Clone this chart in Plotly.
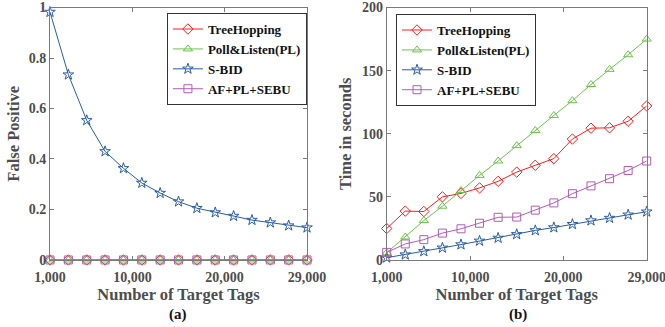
import plotly.graph_objects as go

tags = [1000, 3000, 5000, 7000, 9000, 11000, 13000, 15000, 17000, 19000, 21000, 23000, 25000, 27000, 29000]
x_ticks = [1000, 10000, 20000, 29000]
x_tick_labels = ["1,000", "10,000", "20,000", "29,000"]

series_names = ["TreeHopping", "Poll&Listen(PL)", "S-BID", "AF+PL+SEBU"]

# (a) False positive
fp_treehopping = [0] * 15
fp_poll_listen = [0] * 15
fp_sbid = [0.982, 0.734, 0.553, 0.43, 0.363, 0.305, 0.265, 0.231, 0.205, 0.188, 0.174, 0.158, 0.148, 0.136, 0.128]
fp_af_pl_sebu = [0] * 15

# (b) Time in seconds
t_treehopping = [24.9, 38.7, 38.4, 50.0, 52.7, 57.1, 62.3, 69.6, 75.0, 80.3, 95.8, 104.4, 104.7, 109.9, 122.0]
t_poll_listen = [5.7, 18.2, 31.2, 42.6, 55.0, 67.0, 78.4, 90.6, 102.6, 114.5, 126.2, 139.0, 151.0, 162.6, 175.0]
t_sbid = [1.8, 4.2, 6.8, 9.6, 12.2, 15.1, 17.4, 20.3, 23.4, 25.7, 28.3, 31.2, 33.2, 35.8, 38.2]
t_af_pl_sebu = [6.0, 12.7, 16.1, 21.3, 24.7, 29.1, 33.8, 34.0, 39.5, 45.2, 52.5, 58.7, 64.4, 70.9, 78.4]

colors = ["#ff1a1a", "#6cc24a", "#2a5caa", "#b25cb8"]
symbols = ["diamond-open", "triangle-up-open", "star-open", "square-open"]

FONT = '"Liberation Serif", "Times New Roman", Times, serif'
TXT = "#4d4d4d"
AX = "#7a7a7a"

fig = go.Figure()

left_data = [fp_treehopping, fp_poll_listen, fp_sbid, fp_af_pl_sebu]
right_data = [t_treehopping, t_poll_listen, t_sbid, t_af_pl_sebu]

for i in range(4):
    fig.add_trace(go.Scatter(
        x=tags, y=left_data[i], name=series_names[i], mode="lines+markers",
        line=dict(color=colors[i], width=1),
        marker=dict(symbol=symbols[i], size=8, color=colors[i], line=dict(width=1, color=colors[i])),
        xaxis="x", yaxis="y", legend="legend", legendgroup="a%d" % i, cliponaxis=False,
    ))
for i in range(4):
    fig.add_trace(go.Scatter(
        x=tags, y=right_data[i], name=series_names[i], mode="lines+markers",
        line=dict(color=colors[i], width=1),
        marker=dict(symbol=symbols[i], size=8, color=colors[i], line=dict(width=1, color=colors[i])),
        xaxis="x2", yaxis="y2", legend="legend2", legendgroup="b%d" % i, cliponaxis=False,
    ))

axis_common = dict(
    showline=True, linecolor=AX, linewidth=1, mirror="ticks", automargin=False,
    ticks="inside", ticklen=4, tickcolor=AX, showgrid=False, zeroline=False,
    ticklabeloverflow="allow",
    tickfont=dict(family=FONT, size=14, color=TXT, weight="bold"),
)

xcommon = dict(axis_common, range=[1000, 29000], tickvals=x_ticks, ticktext=x_tick_labels,
               ticklabelstandoff=4,
               title=dict(text="Number of Target Tags", font=dict(family=FONT, size=16.5, color=TXT, weight="bold"), standoff=3))

fig.update_layout(
    template="none",
    width=665, height=327,
    margin=dict(l=0, r=0, t=0, b=0),
    paper_bgcolor="white", plot_bgcolor="white",
    xaxis=dict(xcommon, domain=[0.0752, 0.4617], anchor="y"),
    yaxis=dict(axis_common, domain=[0.205, 0.977], range=[0, 1], tickvals=[0, 0.2, 0.4, 0.6, 0.8, 1],
               ticktext=["0", "0.2", "0.4", "0.6", "0.8", "1"], anchor="x",
               title=dict(text="False Positive", font=dict(family=FONT, size=16.5, color=TXT, weight="bold"), standoff=4)),
    xaxis2=dict(xcommon, domain=[0.5815, 0.9725], anchor="y2"),
    yaxis2=dict(axis_common, domain=[0.205, 0.977], range=[0, 200], tickvals=[0, 50, 100, 150, 200], anchor="x2",
                title=dict(text="Time in seconds", font=dict(family=FONT, size=16.5, color=TXT, weight="bold"), standoff=6)),
    legend=dict(x=0.251, y=0.96, xanchor="left", yanchor="top", bgcolor="white",
                bordercolor="#333", borderwidth=1, tracegroupgap=0,
                font=dict(family=FONT, size=13, color="#111", weight="bold")),
    legend2=dict(x=0.5955, y=0.957, xanchor="left", yanchor="top", bgcolor="white",
                 bordercolor="#333", borderwidth=1, tracegroupgap=0,
                 font=dict(family=FONT, size=13, color="#111", weight="bold")),
    showlegend=True,
    annotations=[
        dict(text="(a)", x=178 / 665, y=(327 - 314) / 327, xref="paper", yref="paper", showarrow=False,
             xanchor="center", yanchor="middle",
             font=dict(family=FONT, size=15, color="#111", weight="bold")),
        dict(text="(b)", x=518 / 665, y=(327 - 314) / 327, xref="paper", yref="paper", showarrow=False,
             xanchor="center", yanchor="middle",
             font=dict(family=FONT, size=15, color="#111", weight="bold")),
    ],
)

fig.write_html("out.html")
